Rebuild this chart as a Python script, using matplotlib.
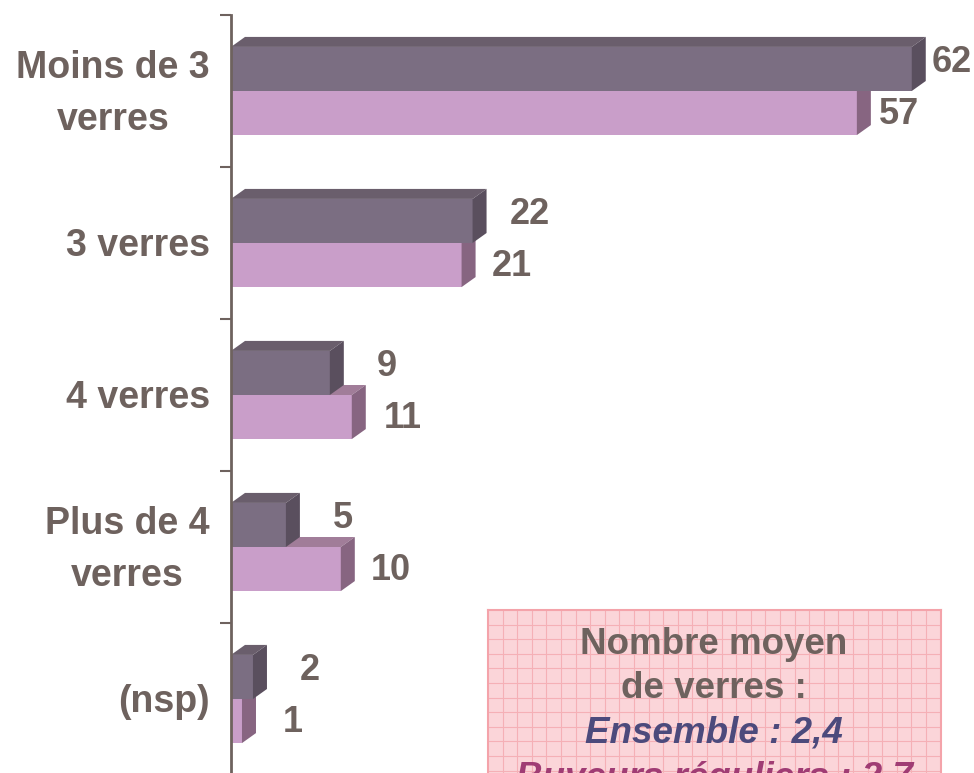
import matplotlib.pyplot as plt
from matplotlib.patches import Polygon, Rectangle

categories = ['Moins de 3\nverres', '3 verres', '4 verres', 'Plus de 4\nverres', '(nsp)']
ensemble = [62, 22, 9, 5, 2]
buveurs = [57, 21, 11, 10, 1]

box_lines = ['Nombre moyen', 'de verres :', 'Ensemble : 2,4', 'Buveurs réguliers : 2,7']

plt.rcParams['font.family'] = ['Liberation Sans', 'DejaVu Sans']
txt = '#6e625e'

W, H = 974, 773
fig = plt.figure(figsize=(W / 100, H / 100), dpi=100)
ax = fig.add_axes([231 / W, -2 / H, 1 - 231 / W, 760 / H])
ax.set_xlim(0, 743 / 10.98)
ax.set_ylim(4.5, -0.5)

bh = 0.29
dx = 14 / 10.98   # depth in x units
dy = 10 / 152     # depth in y units (upwards)


def bar3d(x, y0, y1, front, top, side):
    # y0 = top edge (smaller), y1 = bottom edge
    ax.add_patch(Rectangle((0, y0), x, y1 - y0, facecolor=front, edgecolor='none', zorder=2))
    ax.add_patch(Polygon([(0, y0), (dx, y0 - dy), (x + dx, y0 - dy), (x, y0)],
                         facecolor=top, edgecolor='none', zorder=2))
    ax.add_patch(Polygon([(x, y0), (x + dx, y0 - dy), (x + dx, y1 - dy), (x, y1)],
                         facecolor=side, edgecolor='none', zorder=2))


for i, (e, b) in enumerate(zip(ensemble, buveurs)):
    bar3d(b, i, i + bh, '#c99ec9', '#a17d99', '#876581')
    bar3d(e, i - bh, i, '#7b6e82', '#6a5e6c', '#5a4f5e')
    ax.text(min(e + 5.2, 65.6), i - bh / 2 - 0.045, str(e), ha='center', va='center',
            fontsize=26, fontweight='bold', color=txt)
    ax.text(min(b + 4.6, 60.8), i + bh / 2 + 0.01, str(b), ha='center', va='center',
            fontsize=26, fontweight='bold', color=txt)

# category labels
for i, c in enumerate(categories):
    ax.text(-21 / 743, i + 0.02, c, transform=ax.get_yaxis_transform(), ha='right',
            va='center', multialignment='center', linespacing=1.55,
            fontsize=27, fontweight='bold', color=txt)

for s in ['top', 'right', 'bottom']:
    ax.spines[s].set_visible(False)
ax.spines['left'].set_color(txt)
ax.spines['left'].set_linewidth(2)
ax.set_xticks([])
ax.set_yticks([i - 0.5 for i in range(len(categories) + 1)])
ax.set_yticklabels([])
ax.tick_params(axis='y', which='major', length=8, width=1.5, color=txt)

# info box
bx = fig.add_axes([488 / W, -30 / H, 453 / W, 193 / H])
bx.set_xlim(0, 453)
bx.set_ylim(193, 0)
bx.set_facecolor('#fbd5d9')
for k in range(1, 32):
    bx.axvline(k * 14.6, color='#f5b0b6', lw=0.8)
for k in range(1, 14):
    bx.axhline(k * 14.6, color='#f5b0b6', lw=0.8)
for s in bx.spines.values():
    s.set_color('#f4a3aa')
    s.set_linewidth(1.5)
bx.set_xticks([])
bx.set_yticks([])

line_y = [35, 78, 123, 168]
line_style = [('normal', txt), ('normal', txt), ('italic', '#4c4a7c'), ('italic', '#a03c74')]
for t, y, (st, c) in zip(box_lines, line_y, line_style):
    bx.text(226, y, t, ha='center', va='center', fontsize=26.5, fontweight='bold',
            fontstyle=st, color=c)

fig.savefig('out.png', dpi=100)
